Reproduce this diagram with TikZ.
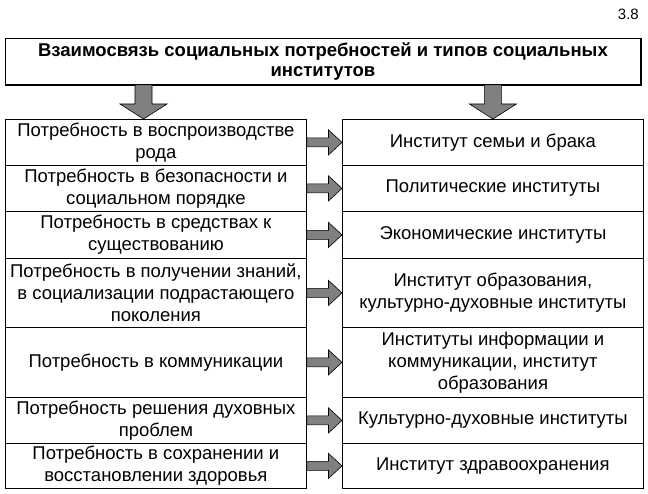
\documentclass[tikz,border=0pt]{standalone}
\usepackage{fontspec}
\setmainfont{Liberation Sans}
\definecolor{arrowgray}{RGB}{128,128,128}
\newcommand\myarrowR[2]{%
  \draw[barrow] ([yshift=4.5pt]#1.east) -- ([xshift=-13.5pt,yshift=4.5pt]#2.west)
    -- ([xshift=-13.5pt,yshift=12.5pt]#2.west) -- (#2.west)
    -- ([xshift=-13.5pt,yshift=-12.5pt]#2.west) -- ([xshift=-13.5pt,yshift=-4.5pt]#2.west)
    -- ([yshift=-4.5pt]#1.east) -- cycle;}
\newcommand\mydownarrow[1]{%
  \draw[barrow] ([xshift=-8.5pt]#1 |- title.south) -- ([xshift=-8.5pt,yshift=15pt]#1)
    -- ([xshift=-23.5pt,yshift=15pt]#1) -- (#1) -- ([xshift=23.5pt,yshift=15pt]#1)
    -- ([xshift=8.5pt,yshift=15pt]#1) -- ([xshift=8.5pt]#1 |- title.south) -- cycle;}
\begin{document}
\begin{tikzpicture}[x=1pt,y=1pt,
  cell/.style={draw, line width=0.8pt, minimum width=301pt, inner sep=0pt, align=center,
    font=\fontsize{18.5}{22}\selectfont, anchor=north west},
  barrow/.style={draw=black, line width=0.6pt, fill=arrowgray, line join=miter}]
\useasboundingbox (0,0) rectangle (648,-494);
\node[anchor=east, inner sep=0pt, font=\fontsize{15}{18}\selectfont] (num) at (639,-14) {3.8};
\node[draw, line width=0.8pt, minimum width=635pt, minimum height=46pt, anchor=north west,
  inner sep=0pt, align=center, font=\bfseries\fontsize{18.5}{20}\selectfont] (title) at (5,-38)
  {Взаимосвязь социальных потребностей и типов социальных\\институтов};
\draw[line width=2pt] (title.north east) -- (title.south east) -- (title.south west);
% left column
\node[cell, minimum height=46pt] (l1) at (5,-119) {Потребность в воспроизводстве\\рода};
\node[cell, minimum height=46pt] (l2) at (5,-165) {Потребность в безопасности и\\социальном порядке};
\node[cell, minimum height=47pt] (l3) at (5,-211) {Потребность в средствах к\\существованию};
\node[cell, minimum height=69pt] (l4) at (5,-258) {Потребность в получении знаний,\\в социализации подрастающего\\поколения};
\node[cell, minimum height=70pt] (l5) at (5,-327) {Потребность в коммуникации};
\node[cell, minimum height=46pt] (l6) at (5,-397) {Потребность решения духовных\\проблем};
\node[cell, minimum height=45pt] (l7) at (5,-443) {Потребность в сохранении и\\восстановлении здоровья};
% right column
\node[cell, minimum height=46pt] (r1) at (342,-119) {Институт семьи и брака};
\node[cell, minimum height=46pt] (r2) at (342,-165) {Политические институты};
\node[cell, minimum height=47pt] (r3) at (342,-211) {Экономические институты};
\node[cell, minimum height=69pt] (r4) at (342,-258) {Институт образования,\\культурно-духовные институты};
\node[cell, minimum height=70pt] (r5) at (342,-327) {Институты информации и\\коммуникации, институт\\образования};
\node[cell, minimum height=46pt] (r6) at (342,-397) {Культурно-духовные институты};
\node[cell, minimum height=45pt] (r7) at (342,-443) {Институт здравоохранения};
% arrows
\path (l1.north west) ++(138.5,0) coordinate (tL);
\path (r1.north) coordinate (tR);
\mydownarrow{tL}
\mydownarrow{tR}
\myarrowR{l1}{r1}
\myarrowR{l2}{r2}
\myarrowR{l3}{r3}
\myarrowR{l4}{r4}
\myarrowR{l5}{r5}
\myarrowR{l6}{r6}
\myarrowR{l7}{r7}
\end{tikzpicture}
\end{document}
